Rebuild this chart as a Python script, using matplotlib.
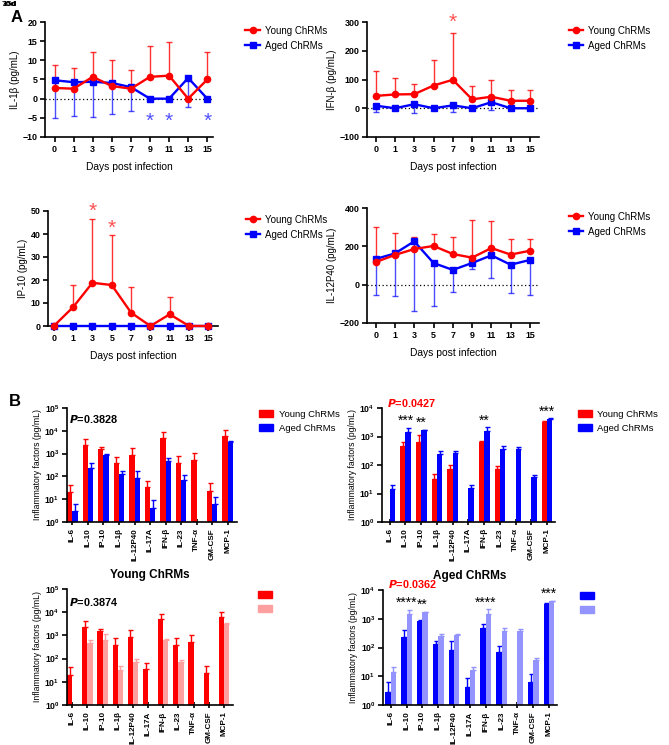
import numpy as np
import matplotlib
matplotlib.use('Agg')
import matplotlib.pyplot as plt
from matplotlib.patches import Patch
from matplotlib.lines import Line2D
from matplotlib.ticker import NullLocator

plt.rcParams['font.family'] = ['Liberation Sans', 'DejaVu Sans']
plt.rcParams['font.weight'] = 'bold'
plt.rcParams['axes.linewidth'] = 1.2

RED = '#ff0000'
BLUE = '#0000ff'
LRED = '#ffa0a0'
LBLUE = '#9494ff'

# ---- panel A: time course ----
days = ['0', '1', '3', '5', '7', '9', '11', '13', '15']

il1b_young = [2.8, 2.6, 5.7, 3.3, 2.6, 5.7, 6.0, 0, 5.0]
il1b_young_hi = [8.7, 8.0, 12.2, 10.0, 7.6, 13.7, 14.8, 0, 12.3]
il1b_aged = [4.8, 4.3, 4.4, 4.1, 3.0, 0, 0, 5.4, 0]
il1b_aged_lo = [-5.0, -4.5, -4.7, -4.1, -3.2, 0, 0, -2.3, 0]

ifnb_young = [43, 48, 49, 79, 99, 31, 40, 26, 26]
ifnb_young_hi = [131, 106, 85, 169, 260, 78, 98, 62, 62]
ifnb_aged = [9, 0, 14, 0, 10, 0, 21, 0, 0]
ifnb_aged_lo = [-13, 0, -16, 0, -12, 0, -7, 0, 0]

ip10_young = [0, 8.2, 18.8, 17.8, 5.8, 0, 5.1, 0, 0]
ip10_young_hi = [0, 18.0, 46.7, 39.5, 17.1, 0, 12.4, 0, 0]
ip10_aged = [0, 0, 0, 0, 0, 0, 0, 0, 0]
ip10_aged_lo = [0, 0, 0, 0, 0, 0, 0, 0, 0]

il12_young = [118, 155, 186, 202, 160, 141, 191, 157, 177]
il12_young_hi = [299, 268, 247, 263, 247, 337, 332, 237, 237]
il12_aged = [134, 163, 226, 113, 77, 113, 153, 104, 129]
il12_aged_lo = [-56, -57, -139, -113, -37, 83, 35, -43, -52]

# ---- panel B: cytokine profiles ----
cytokines = ['IL-6', 'IL-10', 'IP-10', 'IL-1β', 'IL-12P40', 'IL-17A',
             'IFN-β', 'IL-23', 'TNF-α', 'GM-CSF', 'MCP-1']
nan = np.nan
young_1 = [20, 2350, 1590, 380, 870, 36, 4900, 380, 510, 24, 6000]
young_1_hi = [43, 4350, 1880, 740, 1700, 63, 8500, 790, 1030, 49, 10400]
aged_1 = [2.9, 240, 850, 129, 84, 4.3, 475, 70, nan, 6.1, 3300]
aged_1_hi = [6.1, 400, 930, 173, 173, 8.8, 660, 117, nan, 12.4, 3500]
young_2 = [nan, 480, 630, 32, 74, nan, 630, 74, nan, nan, 3100]
young_2_hi = [nan, 660, 1140, 50, 97, nan, 720, 89, nan, nan, 3400]
aged_2 = [14, 1480, 1650, 247, 270, 16, 1520, 370, 370, 38, 4000]
aged_2_hi = [20.5, 2040, 1740, 302, 302, 20.5, 2100, 480, 445, 43, 4300]

fig = plt.figure(figsize=(6.69, 7.45), dpi=100)
W, H = 669.0, 745.0


def box(l, r, t, b):
    return [l / W, 1 - b / H, (r - l) / W, (b - t) / H]


def style(ax, size=6.4):
    for s in ['top', 'right']:
        ax.spines[s].set_visible(False)
    ax.tick_params(width=1.2, length=3.5, labelsize=size, pad=2)


def line_panel(rect, ylabel, yv, yhi, av, alo, ylim, yticks, xlim, stars, legx, zero=True):
    ax = fig.add_axes(rect)
    x = np.arange(len(days))
    yv, yhi, av, alo = map(np.array, (yv, yhi, av, alo))
    if zero:
        ax.axhline(0, color='black', ls=(0, (1, 2)), lw=0.9, zorder=1)
    ax.errorbar(x, yv, yerr=[np.zeros(len(x)), yhi - yv], fmt='none',
                ecolor=RED, elinewidth=1, capsize=2.2, capthick=1, alpha=0.8, clip_on=False)
    ax.errorbar(x, av, yerr=[av - alo, np.zeros(len(x))], fmt='none',
                ecolor=BLUE, elinewidth=1, capsize=2.2, capthick=1, alpha=0.7, clip_on=False)
    ax.plot(x, yv, color=RED, lw=1.7, marker='o', ms=4.5, clip_on=False, zorder=4)
    ax.plot(x, av, color=BLUE, lw=1.7, marker='s', ms=4.2, clip_on=False, zorder=3)
    for i, yy, c in stars:
        ax.text(i, yy, '*', color=c, ha='center', va='center', fontsize=15,
                fontweight='normal', clip_on=False)
    ax.set_xticks(x)
    ax.set_xticklabels(days)
    ax.set_xlim(*xlim)
    ax.set_ylim(*ylim)
    ax.set_yticks(yticks)
    ax.set_ylabel(ylabel, fontsize=7, labelpad=2)
    ax.set_xlabel('Days post infection', fontsize=7.4, labelpad=6)
    style(ax)
    h = [Line2D([], [], color=RED, marker='o', ms=4.5, lw=1.7),
         Line2D([], [], color=BLUE, marker='s', ms=4.2, lw=1.7)]
    leg = ax.legend(h, ['Young ChRMs', 'Aged ChRMs'], loc='upper left',
                    bbox_to_anchor=(legx, 1.0), frameon=False, fontsize=7,
                    handlelength=1.5, handletextpad=0.5, labelspacing=0.5,
                    borderaxespad=0)
    for t in leg.get_texts():
        t.set_fontweight('normal')
    return ax


lstar_b = '#5050ff'
lstar_r = '#ff5050'
line_panel(box(45, 213, 22, 137), 'IL-1β (pg/mL)', il1b_young, il1b_young_hi,
           il1b_aged, il1b_aged_lo, (-10, 20), [-10, -5, 0, 5, 10, 15, 20], (-0.5, 8.3),
           [(5, -5.8, lstar_b), (6, -5.8, lstar_b), (8, -5.8, lstar_b)], 1.17)
line_panel(box(367, 539, 22, 137), 'IFN-β (pg/mL)', ifnb_young, ifnb_young_hi,
           ifnb_aged, ifnb_aged_lo, (-100, 300), [-100, 0, 100, 200, 300], (-0.45, 8.47),
           [(4, 298, lstar_r)], 1.15)
line_panel(box(48, 218, 211, 326), 'IP-10 (pg/mL)', ip10_young, ip10_young_hi,
           ip10_aged, ip10_aged_lo, (0, 50), [0, 10, 20, 30, 40, 50], (-0.3, 8.5),
           [(2, 50, lstar_r), (3, 42.5, lstar_r)], 1.14, zero=False)
line_panel(box(367, 539, 208, 323), 'IL-12P40 (pg/mL)', il12_young, il12_young_hi,
           il12_aged, il12_aged_lo, (-200, 400), [-200, 0, 200, 400], (-0.45, 8.47), [],
           1.15)


def bar_panel(rect, c1, v1, h1, c2, v2, h2, ytop, xlim, ptext, pcolor, ppos,
              labels, legx, sig, title=None):
    ax = fig.add_axes(rect)
    x = np.arange(len(cytokines))
    w = 0.34
    for off, c, v, hi in [(-w / 2, c1, v1, h1), (w / 2, c2, v2, h2)]:
        v = np.array(v, dtype=float)
        hi = np.array(hi, dtype=float)
        ax.bar(x + off, v, width=w, color=c, bottom=0, zorder=2)
        ax.errorbar(x + off, v, yerr=[np.zeros(len(x)), hi - v], fmt='none',
                    ecolor=c, elinewidth=1, capsize=1.8, capthick=1, zorder=2)
    ax.set_yscale('log')
    ax.set_ylim(1, ytop)
    ax.set_yticks([10.0 ** k for k in range(int(np.log10(ytop)) + 1)])
    ax.yaxis.set_minor_locator(NullLocator())
    ax.set_xlim(*xlim)
    ax.set_xticks(x)
    ax.set_xticklabels(cytokines, rotation=90)
    style(ax, 6.2)
    ax.tick_params(axis='x', direction='inout', length=5, labelsize=5.8)
    ax.set_ylabel('Inflammatory factors (pg/mL)', fontsize=6.2, labelpad=2)
    ax.text(ppos[0], ppos[1], r'$\bf{\it{P}}$=' + ptext[2:], color=pcolor,
            transform=ax.transAxes, fontsize=7.8, ha='left', va='center')
    for i, s in sig:
        top = np.nanmax([h1[i], h2[i]])
        ax.text(i, top * 1.0, s, ha='center', va='bottom', fontsize=10,
                fontweight='normal')
    if title:
        ax.set_title(title, fontsize=8.5, fontweight='bold', pad=8)
    h = [Patch(color=c1), Patch(color=c2)]
    leg = ax.legend(h, labels, loc='upper left', bbox_to_anchor=(legx, 1.0),
                    frameon=False, fontsize=6.8, handlelength=1.5,
                    handleheight=0.75, handletextpad=0.6, labelspacing=0.5,
                    borderaxespad=0, borderpad=0.2)
    for t in leg.get_texts():
        t.set_fontweight('normal')
    return ax


bar_panel(box(67, 237, 408, 522), RED, young_1, young_1_hi, BLUE, aged_1, aged_1_hi,
          1e5, (-0.35, 10.6), 'P=0.3828', 'black', (0.01, 0.905),
          ['Young ChRMs', 'Aged ChRMs'], 1.12, [])
bar_panel(box(382, 555, 408, 522), RED, young_2, young_2_hi, BLUE, aged_2, aged_2_hi,
          1e4, (-0.49, 10.5), 'P=0.0427', RED, (0.03, 1.045),
          ['Young ChRMs', 'Aged ChRMs'], 1.12,
          [(1, '***'), (2, '**'), (6, '**'), (10, '***')])
bar_panel(box(67, 233, 589, 705), RED, young_1, young_1_hi, LRED, young_2, young_2_hi,
          1e5, (-0.35, 10.6), 'P=0.3874', 'black', (0.01, 0.89),
          ['', ''], 1.14, [], title='Young ChRMs')
bar_panel(box(383, 557, 590, 705), BLUE, aged_1, aged_1_hi, LBLUE, aged_2, aged_2_hi,
          1e4, (-0.49, 10.5), 'P=0.0362', RED, (0.03, 1.05),
          ['', ''], 1.12, [(1, '****'), (2, '**'), (6, '****'), (10, '***')],
          title='Aged ChRMs')

fig.text(17 / W, 1 - 17 / H, 'A', fontsize=12, fontweight='bold', ha='center', va='center')
fig.text(15 / W, 1 - 402 / H, 'B', fontsize=12, fontweight='bold', ha='center', va='center')
fig.text(2 / W, 1 - 4 / H, '15d', fontsize=6, fontweight='bold', ha='left', va='center')
fig.text(2 / W, 1 - 4 / H, '70d', fontsize=6, fontweight='bold', ha='left', va='center')

fig.savefig('out.png', dpi=100)
